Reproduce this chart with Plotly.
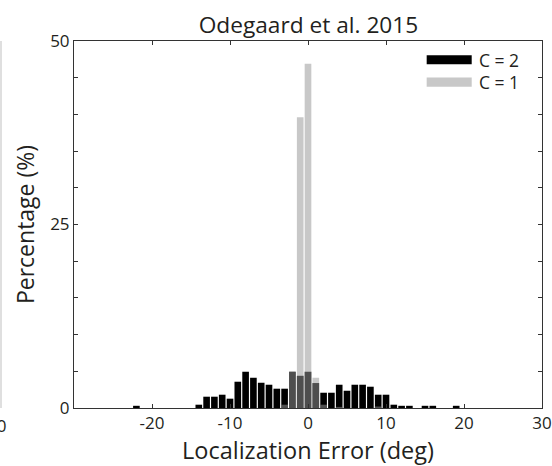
import plotly.graph_objects as go

# Localization error bins (deg) and percentages
c2_x = [-22, -14, -13, -12, -11, -10, -9, -8, -7, -6, -5, -4, -3, -2, -1, 0, 1, 2, 3, 4, 5, 6, 7, 8, 9, 10, 11, 12, 13, 15, 16, 19]
c2_y = [0.3, 0.45, 1.54, 1.54, 1.81, 1.27, 3.58, 4.94, 4.12, 3.44, 3.17, 2.63, 2.63, 4.94, 4.39, 4.94, 3.4, 2.08, 2.08, 3.17, 2.35, 3.17, 3.17, 2.9, 1.81, 1.81, 0.45, 0.3, 0.3, 0.3, 0.3, 0.3]

c1_x = [-3, -2, -1, 0, 1, 2, 4, 9]
c1_y = [0.45, 4.94, 39.6, 46.9, 4.12, 0.45, 0.15, 0.2]

x_ticks = [-20, -10, 0, 10, 20, 30]
y_ticks = [0, 25, 50]

TXT = "#231f20"
FONT = "Open Sans"

fig = go.Figure()
fig.add_trace(go.Bar(x=c2_x, y=c2_y, width=0.85, marker=dict(color="#000000", line_width=0),
                     name="C = 2", showlegend=False))
fig.add_trace(go.Bar(x=c1_x, y=c1_y, width=0.85, marker=dict(color="rgba(150,150,150,0.52)", line_width=0),
                     name="C = 1", showlegend=False))

fig.update_layout(
    width=552, height=466,
    margin=dict(l=74, r=10, t=41, b=58),
    paper_bgcolor="white", plot_bgcolor="white",
    barmode="overlay",
    font=dict(family=FONT, color=TXT, size=17),
    title=dict(text="Odegaard et al. 2015", x=0.5588, xanchor="center", y=0.946, yanchor="middle",
               font=dict(size=22.7, family=FONT, color=TXT)),
)
fig.update_xaxes(range=[-30, 30], tickvals=x_ticks, ticktext=[str(v) for v in x_ticks],
                 ticks="inside", ticklen=4, tickcolor="#333", showline=True, linecolor="#333",
                 linewidth=1, mirror="ticks", showgrid=False, zeroline=False, automargin=False,
                 tickfont=dict(size=17),
                 title=dict(text="Localization Error (deg)", font=dict(size=23.5), standoff=8))
fig.update_yaxes(range=[0, 50], tickvals=y_ticks, ticktext=[str(v) for v in y_ticks],
                 ticks="inside", ticklen=4, tickcolor="#333", showline=True, linecolor="#333",
                 linewidth=1, mirror="ticks", showgrid=False, zeroline=False, automargin=False,
                 minor=dict(dtick=5, ticks="inside", ticklen=4, tickcolor="#333", showgrid=False),
                 tickfont=dict(size=17),
                 title=dict(text="Percentage (%)", font=dict(size=23), standoff=9))

# legend keys (manual, wide swatches)
legend_items = [("C = 2", "#000000", 0.949), ("C = 1", "rgba(150,150,150,0.52)", 0.888)]
for label, col, yc in legend_items:
    fig.add_shape(type="rect", xref="paper", yref="paper", x0=0.7536, x1=0.8498,
                  y0=yc - 0.0125, y1=yc + 0.0125, fillcolor=col, line_width=0)
    fig.add_annotation(text=label, xref="paper", yref="paper", x=0.862, y=yc,
                       xanchor="left", yanchor="middle", showarrow=False,
                       font=dict(size=17.5, family=FONT, color=TXT))

# edge of neighbouring panel
fig.add_shape(type="line", xref="paper", yref="paper", x0=-73/468, x1=-73/468, y0=0, y1=1,
              line=dict(color="#d4d4d4", width=1.5))
fig.add_annotation(text="30", xref="paper", yref="paper", x=-66/468, y=-0.01, xanchor="right",
                   yanchor="top", showarrow=False, font=dict(size=17, family=FONT, color=TXT))

fig.write_html("out.html")
